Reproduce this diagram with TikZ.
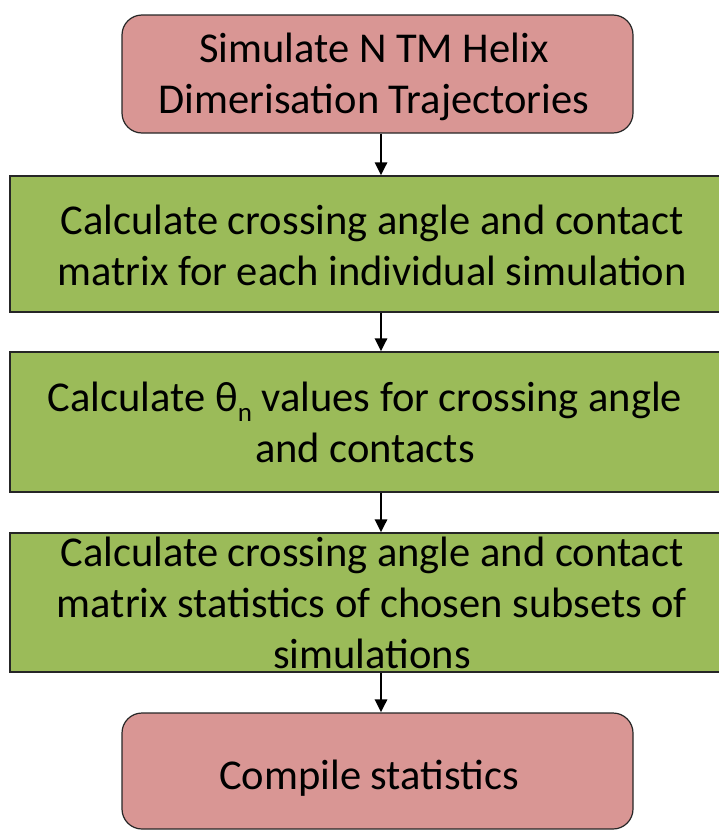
\documentclass[tikz,border=0pt]{standalone}
\usepackage{fontspec}
\setmainfont{Carlito}
\usetikzlibrary{arrows.meta}

\definecolor{pinkfill}{HTML}{D99694}
\definecolor{greenfill}{HTML}{9BBB59}

\newcommand{\lowsub}[1]{\raisebox{-0.24em}{\fontsize{27}{27}\selectfont #1}}

\tikzset{
  pinkbox/.style={draw=black!85, line width=1.2pt, fill=pinkfill, rounded corners=20pt,
    minimum width=511pt, inner sep=0pt},
  greenbox/.style={draw=black!85, line width=1.2pt, fill=greenfill,
    minimum width=724pt, inner sep=0pt},
  boxtext/.style={align=center, inner sep=0pt, font=\fontsize{42.5}{51}\selectfont,
    execute at begin node=\strut, execute at end node=\strut},
  flowarrow/.style={-{Triangle[length=13pt,width=12pt]}, line width=2.8pt}
}

\begin{document}
\begin{tikzpicture}[x=1pt, y=-1pt]
  \useasboundingbox (0,0) rectangle (719,830);
  \clip (0,0) rectangle (719,830);
  % boxes
  \node[pinkbox, minimum height=118pt] (sim) at (377.5,74) {};
  \node[greenbox, minimum height=136pt] (calc) at (372,244) {};
  \node[greenbox, minimum height=140pt] (theta) at (372,422) {};
  \node[greenbox, minimum height=139pt] (subset) at (372,602.5) {};
  \node[pinkbox, minimum height=116pt] (compile) at (377.5,771) {};
  % texts
  \node[boxtext] (simtext) at (374,81) {Simulate N TM Helix\\Dimerisation Trajectories};
  \node[boxtext] (calctext) at (372,253) {Calculate crossing angle and contact\\matrix for each individual simulation};
  \node[boxtext] (thetatext) at (365,430) {Calculate θ\lowsub{n} values for crossing angle\\and contacts};
  \node[boxtext] (subsettext) at (372,610) {Calculate crossing angle and contact\\matrix statistics of chosen subsets of\\simulations};
  \node[boxtext] (compiletext) at (369,779) {Compile statistics};
  % arrows
  \draw[flowarrow] ([xshift=3.5pt]sim.south) -- ([xshift=3.5pt]sim.south |- calc.north);
  \draw[flowarrow] ([xshift=9pt]calc.south) -- ([xshift=9pt]theta.north);
  \draw[flowarrow] ([xshift=9pt]theta.south) -- ([xshift=9pt]subset.north);
  \draw[flowarrow] ([xshift=9pt]subset.south) -- ([xshift=3.5pt]compile.north);
\end{tikzpicture}
\end{document}
